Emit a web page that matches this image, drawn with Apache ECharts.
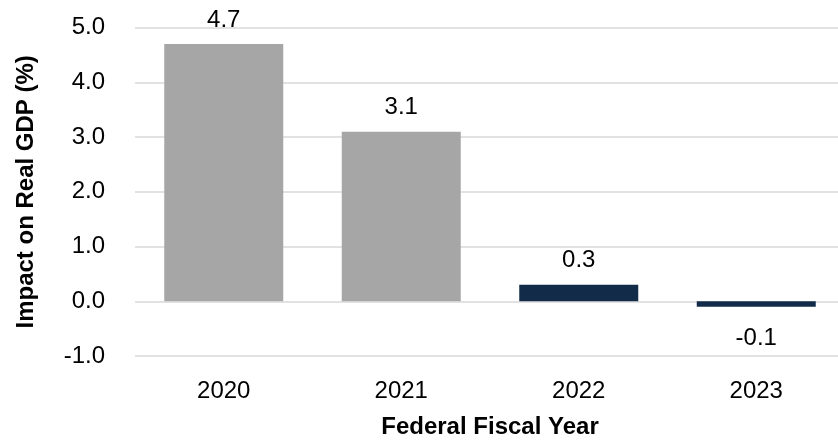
<!DOCTYPE html>
<html>
<head>
<meta charset="utf-8">
<script src="https://cdn.jsdelivr.net/npm/echarts@6/dist/echarts.min.js"></script>
<style>
  html, body { margin: 0; padding: 0; background: #fff; }
  #chart { width: 838px; height: 441px; }
</style>
</head>
<body>
<div id="chart"></div>
<script>
// Fiscal years and estimated impact on real GDP (percent)
const years = ['2020', '2021', '2022', '2023'];
const impact = [4.7, 3.1, 0.3, -0.1];
const barColors = ['#a6a6a6', '#a6a6a6', '#122b48', '#122b48'];
const yTicks = { min: -1, max: 5, interval: 1 };

const font = '"Liberation Sans", Arial, sans-serif';

const chart = echarts.init(document.getElementById('chart'), null, { renderer: 'canvas' });

chart.setOption({
  animation: false,
  grid: {
    left: 135, top: 27.7, width: 710, height: 328.3,
    containLabel: false, outerBoundsMode: 'none'
  },
  xAxis: {
    type: 'category',
    data: years,
    name: 'Federal Fiscal Year',
    nameLocation: 'middle',
    nameGap: 59,
    nameTextStyle: { fontFamily: font, fontWeight: 'bold', fontSize: 24, color: '#000' },
    axisLine: { show: false, onZero: false },
    axisTick: { show: false },
    axisLabel: { fontFamily: font, fontSize: 24, color: '#000', margin: 23 }
  },
  yAxis: {
    type: 'value',
    min: yTicks.min,
    max: yTicks.max,
    interval: yTicks.interval,
    name: 'Impact on Real GDP (%)',
    nameLocation: 'middle',
    nameGap: 97,
    nameTextStyle: { fontFamily: font, fontWeight: 'bold', fontSize: 24, color: '#000' },
    axisLine: { show: false },
    axisTick: { show: false },
    axisLabel: {
      fontFamily: font, fontSize: 24, color: '#000', margin: 30,
      formatter: v => v.toFixed(1)
    },
    splitLine: { lineStyle: { color: '#d9d9d9', width: 1.5 } }
  },
  series: [{
    type: 'bar',
    barWidth: 119,
    data: impact.map((v, i) => ({
      value: v,
      itemStyle: { color: barColors[i] },
      label: { position: v < 0 ? 'bottom' : 'top', distance: v < 0 ? 20 : 12 }
    })),
    label: {
      show: true,
      fontFamily: font,
      fontSize: 24,
      color: '#000',
      formatter: p => p.value.toFixed(1)
    }
  }]
});
</script>
</body>
</html>
